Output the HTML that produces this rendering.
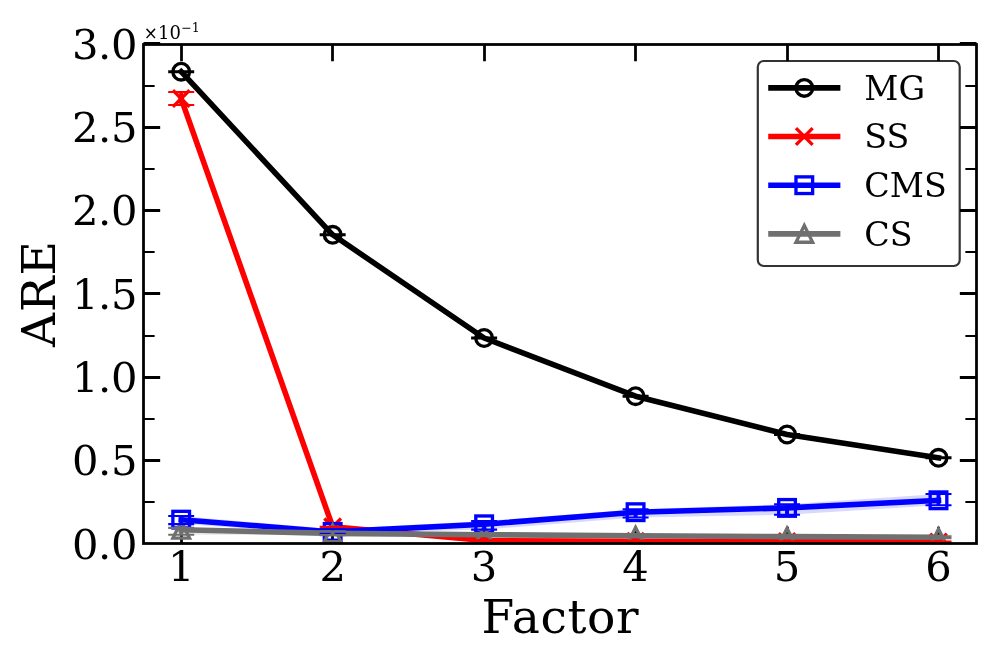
<!DOCTYPE html>
<html lang="en">
<head>
<meta charset="utf-8">
<title>ARE vs Factor</title>
<style>html,body{margin:0;padding:0;background:#fff}body{width:996px;height:664px;overflow:hidden}</style>
</head>
<body>
<svg width="996" height="664" viewBox="0 0 996 664" style="display:block;font-family:'DejaVu Serif','Liberation Serif',serif">
<rect width="996" height="664" fill="#ffffff"/>
<defs><clipPath id="ax"><rect x="143.5" y="44.5" width="833.00" height="499.00"/></clipPath></defs>
<g id="bands" stroke="none" clip-path="url(#ax)">
<polygon points="181.20,71.30 332.66,234.40 484.12,337.50 635.58,395.80 787.04,434.10 938.50,457.40 938.50,458.20 787.04,434.90 635.58,396.60 484.12,338.50 332.66,235.20 181.20,72.10" fill="#000000" fill-opacity="0.15"/>
<polygon points="181.20,92.00 332.66,526.90 484.12,540.20 635.58,540.80 787.04,541.20 938.50,541.50 938.50,542.30 787.04,542.00 635.58,541.60 484.12,541.00 332.66,526.90 181.20,105.00" fill="#ff0000" fill-opacity="0.15"/>
<polygon points="181.20,516.00 332.66,529.00 484.12,521.00 635.58,509.20 787.04,504.30 938.50,494.00 938.50,505.30 787.04,514.70 635.58,517.50 484.12,529.60 332.66,533.90 181.20,524.10" fill="#0000ff" fill-opacity="0.15"/>
<polygon points="181.20,527.90 332.66,531.20 484.12,533.60 635.58,534.70 787.04,535.70 938.50,536.30 938.50,538.10 787.04,537.50 635.58,536.70 484.12,535.80 332.66,535.10 181.20,534.80" fill="#707070" fill-opacity="0.15"/>
</g>
<g id="ticks" stroke="#000" fill="none">
<path d="M181.50 543.5v-16.67M181.50 44.5v16.67M332.50 543.5v-16.67M332.50 44.5v16.67M484.50 543.5v-16.67M484.50 44.5v16.67M635.50 543.5v-16.67M635.50 44.5v16.67M787.50 543.5v-16.67M787.50 44.5v16.67M938.50 543.5v-16.67M938.50 44.5v16.67M143.5 460.50h16.67M976.5 460.50h-16.67M143.5 377.50h16.67M976.5 377.50h-16.67M143.5 293.50h16.67M976.5 293.50h-16.67M143.5 210.50h16.67M976.5 210.50h-16.67M143.5 127.50h16.67M976.5 127.50h-16.67M143.5 43.5h16.67M976.5 43.5h-16.67" stroke-width="2.78"/>
<path d="M143.5 502.00h11.11M976.5 502.00h-11.11M143.5 419.00h11.11M976.5 419.00h-11.11M143.5 336.00h11.11M976.5 336.00h-11.11M143.5 252.00h11.11M976.5 252.00h-11.11M143.5 169.00h11.11M976.5 169.00h-11.11M143.5 86.00h11.11M976.5 86.00h-11.11" stroke-width="2.08"/>
</g>
<g id="lines" clip-path="url(#ax)">
<polyline points="181.20,71.70 332.66,234.80 484.12,338.00 635.58,396.20 787.04,434.50 938.50,457.80" fill="none" stroke="#000000" stroke-width="5.56" stroke-linecap="square" stroke-linejoin="round"/>
<circle cx="181.20" cy="71.70" r="8.33" fill="none" stroke="#000000" stroke-width="3.33"/>
<circle cx="332.66" cy="234.80" r="8.33" fill="none" stroke="#000000" stroke-width="3.33"/>
<circle cx="484.12" cy="338.00" r="8.33" fill="none" stroke="#000000" stroke-width="3.33"/>
<circle cx="635.58" cy="396.20" r="8.33" fill="none" stroke="#000000" stroke-width="3.33"/>
<circle cx="787.04" cy="434.50" r="8.33" fill="none" stroke="#000000" stroke-width="3.33"/>
<circle cx="938.50" cy="457.80" r="8.33" fill="none" stroke="#000000" stroke-width="3.33"/>
<polyline points="181.20,98.60 332.66,526.80 484.12,540.60 635.58,541.20 787.04,541.60 938.50,541.90" fill="none" stroke="#ff0000" stroke-width="5.56" stroke-linecap="square" stroke-linejoin="round"/>
<path d="M172.87 90.27L189.53 106.93M172.87 106.93L189.53 90.27" fill="none" stroke="#ff0000" stroke-width="3.33"/>
<path d="M324.33 518.47L340.99 535.13M324.33 535.13L340.99 518.47" fill="none" stroke="#ff0000" stroke-width="3.33"/>
<path d="M475.79 532.27L492.45 548.93M475.79 548.93L492.45 532.27" fill="none" stroke="#ff0000" stroke-width="3.33"/>
<path d="M627.25 532.87L643.91 549.53M627.25 549.53L643.91 532.87" fill="none" stroke="#ff0000" stroke-width="3.33"/>
<path d="M778.71 533.27L795.37 549.93M778.71 549.93L795.37 533.27" fill="none" stroke="#ff0000" stroke-width="3.33"/>
<path d="M930.17 533.57L946.83 550.23M930.17 550.23L946.83 533.57" fill="none" stroke="#ff0000" stroke-width="3.33"/>
<polyline points="181.20,519.65 332.66,531.90 484.12,524.30 635.58,512.20 787.04,507.90 938.50,500.30" fill="none" stroke="#0000ff" stroke-width="5.56" stroke-linecap="square" stroke-linejoin="round"/>
<rect x="172.87" y="511.32" width="16.66" height="16.66" fill="none" stroke="#0000ff" stroke-width="3.33"/>
<rect x="324.33" y="523.57" width="16.66" height="16.66" fill="none" stroke="#0000ff" stroke-width="3.33"/>
<rect x="475.79" y="515.97" width="16.66" height="16.66" fill="none" stroke="#0000ff" stroke-width="3.33"/>
<rect x="627.25" y="503.87" width="16.66" height="16.66" fill="none" stroke="#0000ff" stroke-width="3.33"/>
<rect x="778.71" y="499.57" width="16.66" height="16.66" fill="none" stroke="#0000ff" stroke-width="3.33"/>
<rect x="930.17" y="491.97" width="16.66" height="16.66" fill="none" stroke="#0000ff" stroke-width="3.33"/>
<polyline points="181.20,529.80 332.66,533.40 484.12,534.70 635.58,535.70 787.04,536.60 938.50,537.20" fill="none" stroke="#707070" stroke-width="5.56" stroke-linecap="square" stroke-linejoin="round"/>
<path d="M181.20 521.47L172.87 538.13L189.53 538.13Z" fill="none" stroke="#707070" stroke-width="3.33" stroke-linejoin="miter" stroke-miterlimit="10"/>
<path d="M332.66 525.07L324.33 541.73L340.99 541.73Z" fill="none" stroke="#707070" stroke-width="3.33" stroke-linejoin="miter" stroke-miterlimit="10"/>
<path d="M484.12 526.37L475.79 543.03L492.45 543.03Z" fill="none" stroke="#707070" stroke-width="3.33" stroke-linejoin="miter" stroke-miterlimit="10"/>
<path d="M635.58 527.37L627.25 544.03L643.91 544.03Z" fill="none" stroke="#707070" stroke-width="3.33" stroke-linejoin="miter" stroke-miterlimit="10"/>
<path d="M787.04 528.27L778.71 544.93L795.37 544.93Z" fill="none" stroke="#707070" stroke-width="3.33" stroke-linejoin="miter" stroke-miterlimit="10"/>
<path d="M938.50 528.87L930.17 545.53L946.83 545.53Z" fill="none" stroke="#707070" stroke-width="3.33" stroke-linejoin="miter" stroke-miterlimit="10"/>
</g>
<g id="errs" fill="none" clip-path="url(#ax)">
<path d="M181.20 71.30V72.10M332.66 234.40V235.20M484.12 337.50V338.50M635.58 395.80V396.60M787.04 434.10V434.90M938.50 457.40V458.20" stroke="#000000" stroke-width="4.0"/>
<path d="M168.20 71.30h26.0M168.20 72.10h26.0M319.66 234.40h26.0M319.66 235.20h26.0M471.12 337.50h26.0M471.12 338.50h26.0M622.58 395.80h26.0M622.58 396.60h26.0M774.04 434.10h26.0M774.04 434.90h26.0M925.50 457.40h26.0M925.50 458.20h26.0" stroke="#000000" stroke-width="2.1"/>
<path d="M181.20 92.00V105.00M332.66 526.90V526.90M484.12 540.20V541.00M635.58 540.80V541.60M787.04 541.20V542.00M938.50 541.50V542.30" stroke="#ff0000" stroke-width="4.0"/>
<path d="M168.20 92.00h26.0M168.20 105.00h26.0M319.66 526.90h26.0M319.66 526.90h26.0M471.12 540.20h26.0M471.12 541.00h26.0M622.58 540.80h26.0M622.58 541.60h26.0M774.04 541.20h26.0M774.04 542.00h26.0M925.50 541.50h26.0M925.50 542.30h26.0" stroke="#ff0000" stroke-width="2.1"/>
<path d="M181.20 516.00V524.10M332.66 529.00V533.90M484.12 521.00V529.60M635.58 509.20V517.50M787.04 504.30V514.70M938.50 494.00V505.30" stroke="#0000ff" stroke-width="4.0"/>
<path d="M168.20 516.00h26.0M168.20 524.10h26.0M319.66 529.00h26.0M319.66 533.90h26.0M471.12 521.00h26.0M471.12 529.60h26.0M622.58 509.20h26.0M622.58 517.50h26.0M774.04 504.30h26.0M774.04 514.70h26.0M925.50 494.00h26.0M925.50 505.30h26.0" stroke="#0000ff" stroke-width="2.1"/>
<path d="M181.20 527.90V534.80M332.66 531.20V535.10M484.12 533.60V535.80M635.58 534.70V536.70M787.04 535.70V537.50M938.50 536.30V538.10" stroke="#707070" stroke-width="4.0"/>
<path d="M168.20 527.90h26.0M168.20 534.80h26.0M319.66 531.20h26.0M319.66 535.10h26.0M471.12 533.60h26.0M471.12 535.80h26.0M622.58 534.70h26.0M622.58 536.70h26.0M774.04 535.70h26.0M774.04 537.50h26.0M925.50 536.30h26.0M925.50 538.10h26.0" stroke="#707070" stroke-width="2.1"/>
</g>
<rect x="143.5" y="44.5" width="833.00" height="499.00" fill="none" stroke="#000" stroke-width="2.78"/>
<g id="ticklabels" font-size="41.67" fill="#000">
<text x="137.0" y="558.6" text-anchor="end" letter-spacing="-0.4">0.0</text>
<text x="137.0" y="475.4" text-anchor="end" letter-spacing="-0.4">0.5</text>
<text x="137.0" y="392.0" text-anchor="end" letter-spacing="-0.4">1.0</text>
<text x="137.0" y="308.8" text-anchor="end" letter-spacing="-0.4">1.5</text>
<text x="137.0" y="225.4" text-anchor="end" letter-spacing="-0.4">2.0</text>
<text x="137.0" y="142.3" text-anchor="end" letter-spacing="-0.4">2.5</text>
<text x="137.0" y="58.5" text-anchor="end" letter-spacing="-0.4">3.0</text>
<text x="181.20" y="581.2" text-anchor="middle">1</text>
<text x="332.66" y="581.2" text-anchor="middle">2</text>
<text x="484.12" y="581.2" text-anchor="middle">3</text>
<text x="635.58" y="581.2" text-anchor="middle">4</text>
<text x="787.04" y="581.2" text-anchor="middle">5</text>
<text x="938.50" y="581.2" text-anchor="middle">6</text>
</g>
<text x="143.5" y="38.9" font-size="18" fill="#000"><tspan font-family="'DejaVu Sans','Liberation Sans',sans-serif" font-size="16.8" dy="0.4" dx="0.2">×</tspan><tspan dx="0.2" dy="-0.4">10</tspan><tspan font-size="12.6" dy="-6.75" dx="0.4">−1</tspan></text>
<text x="560.4" y="633.3" font-size="47.2" letter-spacing="0.6" text-anchor="middle" fill="#000">Factor</text>
<text transform="translate(54.8 293.5) rotate(-90)" font-size="47.2" letter-spacing="1.0" text-anchor="middle" fill="#000">ARE</text>
<g id="legend">
<rect x="757.8" y="61" width="201.9" height="205" rx="6" ry="6" fill="#ffffff" fill-opacity="0.8" stroke="#000" stroke-opacity="0.8" stroke-width="2.2"/>
<path d="M771 87.9H837.6" stroke="#000000" stroke-width="5.56" stroke-linecap="square" fill="none"/>
<circle cx="804.30" cy="87.90" r="8.33" fill="none" stroke="#000000" stroke-width="3.33"/>
<text x="864.3" y="99.60" font-size="33.33" fill="#000">MG</text>
<path d="M771 136.5H837.6" stroke="#ff0000" stroke-width="5.56" stroke-linecap="square" fill="none"/>
<path d="M795.97 128.17L812.63 144.83M795.97 144.83L812.63 128.17" fill="none" stroke="#ff0000" stroke-width="3.33"/>
<text x="864.3" y="148.20" font-size="33.33" fill="#000">SS</text>
<path d="M771 185.2H837.6" stroke="#0000ff" stroke-width="5.56" stroke-linecap="square" fill="none"/>
<rect x="795.97" y="176.87" width="16.66" height="16.66" fill="none" stroke="#0000ff" stroke-width="3.33"/>
<text x="864.3" y="196.90" font-size="33.33" fill="#000">CMS</text>
<path d="M771 233.9H837.6" stroke="#707070" stroke-width="5.56" stroke-linecap="square" fill="none"/>
<path d="M804.30 225.57L795.97 242.23L812.63 242.23Z" fill="none" stroke="#707070" stroke-width="3.33" stroke-linejoin="miter" stroke-miterlimit="10"/>
<text x="864.3" y="245.60" font-size="33.33" fill="#000">CS</text>
</g>
</svg>
</body>
</html>
